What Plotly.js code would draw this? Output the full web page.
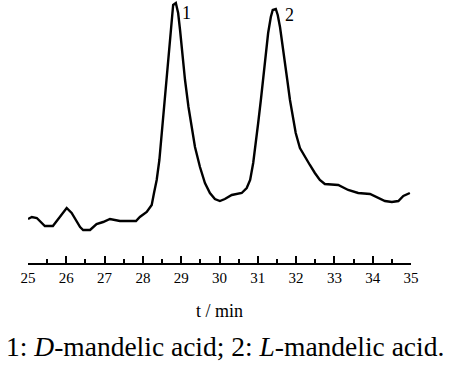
<!DOCTYPE html>
<html>
<head>
<meta charset="utf-8">
<script src="https://cdn.plot.ly/plotly-3.0.1.min.js"></script>
<style>html,body{margin:0;padding:0;background:#fff;}#chart{width:450px;height:369px;}</style>
</head>
<body>
<div id="chart"></div>
<script>
const timeMin = [25.00,25.10,25.23,25.44,25.65,25.84,26.01,26.14,26.36,26.44,26.62,26.79,26.96,27.14,27.40,27.82,27.92,28.10,28.23,28.29,28.36,28.43,28.49,28.55,28.60,28.65,28.71,28.75,28.79,28.86,28.92,28.97,29.04,29.10,29.19,29.27,29.36,29.49,29.62,29.75,29.88,30.01,30.14,30.32,30.58,30.71,30.80,30.88,30.95,31.01,31.08,31.14,31.21,31.27,31.34,31.39,31.47,31.52,31.58,31.64,31.71,31.77,31.84,31.91,31.99,32.10,32.23,32.36,32.49,32.62,32.75,33.10,33.36,33.62,33.93,34.15,34.32,34.50,34.67,34.80,34.97];
const signal = [44,46,45,37,37,46,55,50,36,33,33,39,41,44,42,42,46,51,58,70,83,103,130,156,176,203,230,246,258,260,250,233,206,183,156,136,116,96,80,70,64,62,64,68,70,75,83,100,120,140,163,186,206,230,246,253,254,248,236,220,203,183,163,146,130,115,106,98,90,83,79,78,73,70,69,65,62,61,62,67,70];
const peakLabels = ["1","2"];
const peakX = [29.15,31.84];
const peakY = [250,248];
const xTitle = "t / min";
const caption = "1: <i>D</i>-mandelic acid; 2: <i>L</i>-mandelic acid.";

const serif = "'Liberation Serif', serif";
const annotations = peakLabels.map((t,i)=>({x:peakX[i],y:peakY[i],xref:'x',yref:'y',text:t,showarrow:false,
  font:{family:serif,size:18,color:'#000'},xanchor:'center',yanchor:'middle'}));
annotations.push({x:0.514,y:-0.318,xref:'paper',yref:'paper',text:caption,showarrow:false,
  font:{family:serif,size:27.5,color:'#000'},xanchor:'center',yanchor:'middle'});

Plotly.newPlot('chart',[{x:timeMin,y:signal,type:'scatter',mode:'lines',
  line:{color:'#000',width:2.4},hoverinfo:'none'}],{
  width:450,height:369,
  margin:{l:28,r:39,t:0,b:106},
  paper_bgcolor:'#fff',plot_bgcolor:'#fff',
  showlegend:false,
  xaxis:{range:[25,35],showline:true,linecolor:'#000',linewidth:2,
    ticks:'inside',ticklen:7,tickwidth:2,tickcolor:'#000',dtick:1,tick0:25,
    minor:{dtick:0.5,ticks:'inside',ticklen:4,tickwidth:2,tickcolor:'#000'},
    showgrid:false,zeroline:false,
    tickfont:{family:serif,size:15,color:'#000'},
    title:{text:xTitle,font:{family:serif,size:18,color:'#000'},standoff:19}},
  yaxis:{range:[0,263],visible:false,showgrid:false,zeroline:false},
  annotations:annotations
},{staticPlot:true});
</script>
</body>
</html>
